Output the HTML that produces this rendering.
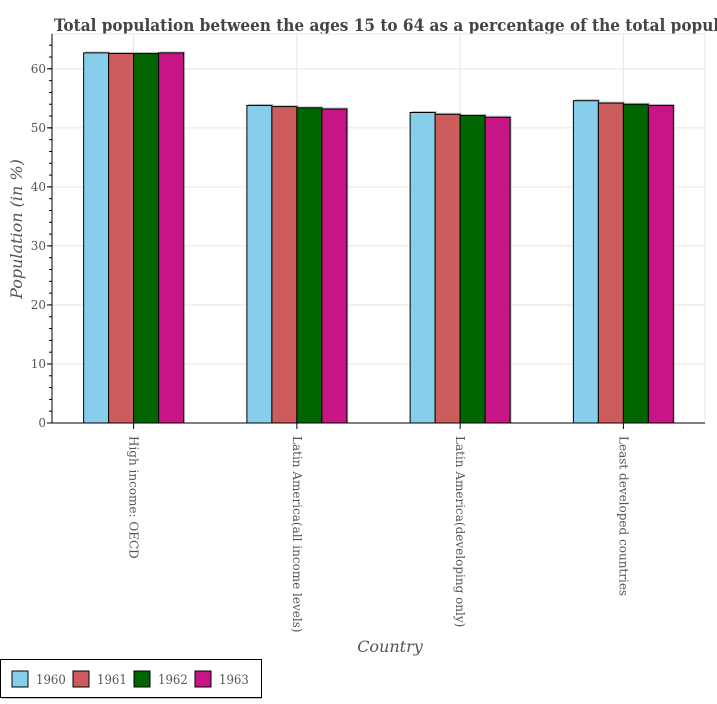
<!DOCTYPE html>
<html><head><meta charset="utf-8"><style>
body{margin:0;background:#fff;font-family:"DejaVu Serif","Liberation Serif",serif;}
svg text{fill:#555;}
</style></head><body>
<svg id="c" width="717" height="700" xmlns="http://www.w3.org/2000/svg">
<text x="54" y="31" font-size="17" font-weight="bold" style="fill:#444" font-family="DejaVu Serif Condensed, DejaVu Serif, serif">Total population between the ages 15 to 64 as a percentage of the total population</text>
<g id="grid"></g><g id="bars"></g><g id="axes"></g>
<text x="390" y="652" font-size="16" font-style="italic" text-anchor="middle">Country</text>
<text transform="translate(22,229) rotate(-90)" font-size="16" font-style="italic" text-anchor="middle">Population (in %)</text>
<g id="legend"></g>
</svg>
<script>
const categories=["High income: OECD","Latin America(all income levels)","Latin America(developing only)","Least developed countries"];
const years=["1960","1961","1962","1963"];
const s1960=[62.7,53.8,52.6,54.6];
const s1961=[62.6,53.6,52.3,54.2];
const s1962=[62.6,53.4,52.1,54.0];
const s1963=[62.7,53.2,51.8,53.8];
const yTicks=[0,10,20,30,40,50,60];
const series=[s1960,s1961,s1962,s1963];
const colors=["#87ceeb","#cd5c5c","#006400","#c71585"];
const NS="http://www.w3.org/2000/svg";
const L=52,R=705,T=34,B=423,ymax=65.9;
const y=v=>B-(v/ymax)*(B-T);
const step=(R-L)/categories.length;
const xc=i=>L+step*(i+0.5);
const bw=25;
function mk(tag,attrs,parent){const e=document.createElementNS(NS,tag);for(const k in attrs)e.setAttribute(k,attrs[k]);document.getElementById(parent).appendChild(e);return e;}
mk('rect',{x:L,y:T,width:R-L,height:B-T,fill:'none',stroke:'#e6e6e6'},'grid');
yTicks.forEach(t=>{const g=mk('line',{x1:L,x2:R,y1:y(t),y2:y(t),stroke:'#e6e6e6'},'grid');


const tk=mk('text',{x:L-6,y:y(t)+4,'font-size':12,'text-anchor':'end'},'axes');tk.textContent=t;


mk('line',{x1:L-5,x2:L,y1:y(t),y2:y(t),stroke:'#000'},'axes');});
for(let v=0;v<=ymax;v+=2){mk('line',{x1:L-3,x2:L,y1:y(v),y2:y(v),stroke:'#000'},'axes');}
categories.forEach((c,i)=>{const g=mk('line',{x1:xc(i),x2:xc(i),y1:T,y2:B,stroke:'#e6e6e6'},'grid');


series.forEach((s,j)=>{const x=xc(i)-2*bw+j*bw;
mk('rect',{x:x+1.5,y:y(s[i])-1.5,width:bw,height:B-y(s[i])+1.5,fill:'#999',opacity:0.6},'bars');
const r=mk('rect',{x:x,y:y(s[i]),width:bw,height:B-y(s[i]),fill:colors[j],stroke:'#000','stroke-width':1},'bars');

});
mk('line',{x1:xc(i),x2:xc(i),y1:B,y2:B+6,stroke:'#000'},'axes');
const t=mk('text',{transform:`translate(${xc(i)-4},${B+13}) rotate(90)`,'font-size':12},'axes');t.textContent=c;

});
mk('line',{x1:L,x2:R,y1:B,y2:B,stroke:'#000'},'axes');
mk('line',{x1:L,x2:L,y1:T,y2:B,stroke:'#000'},'axes');
mk('rect',{x:2,y:661,width:260,height:38,fill:'#999',opacity:0.6},'legend');
mk('rect',{x:0.5,y:659.5,width:261,height:38,fill:'#fff',stroke:'#000'},'legend');
years.forEach((yr,j)=>{const bx=12+j*61;
const r=mk('rect',{x:bx,y:671,width:16,height:16,fill:colors[j],stroke:'#000'},'legend');


const t=mk('text',{x:bx+24,y:684,'font-size':13,'font-family':'DejaVu Serif Condensed, DejaVu Serif, serif'},'legend');t.textContent=yr;

});
</script>
</body></html>
